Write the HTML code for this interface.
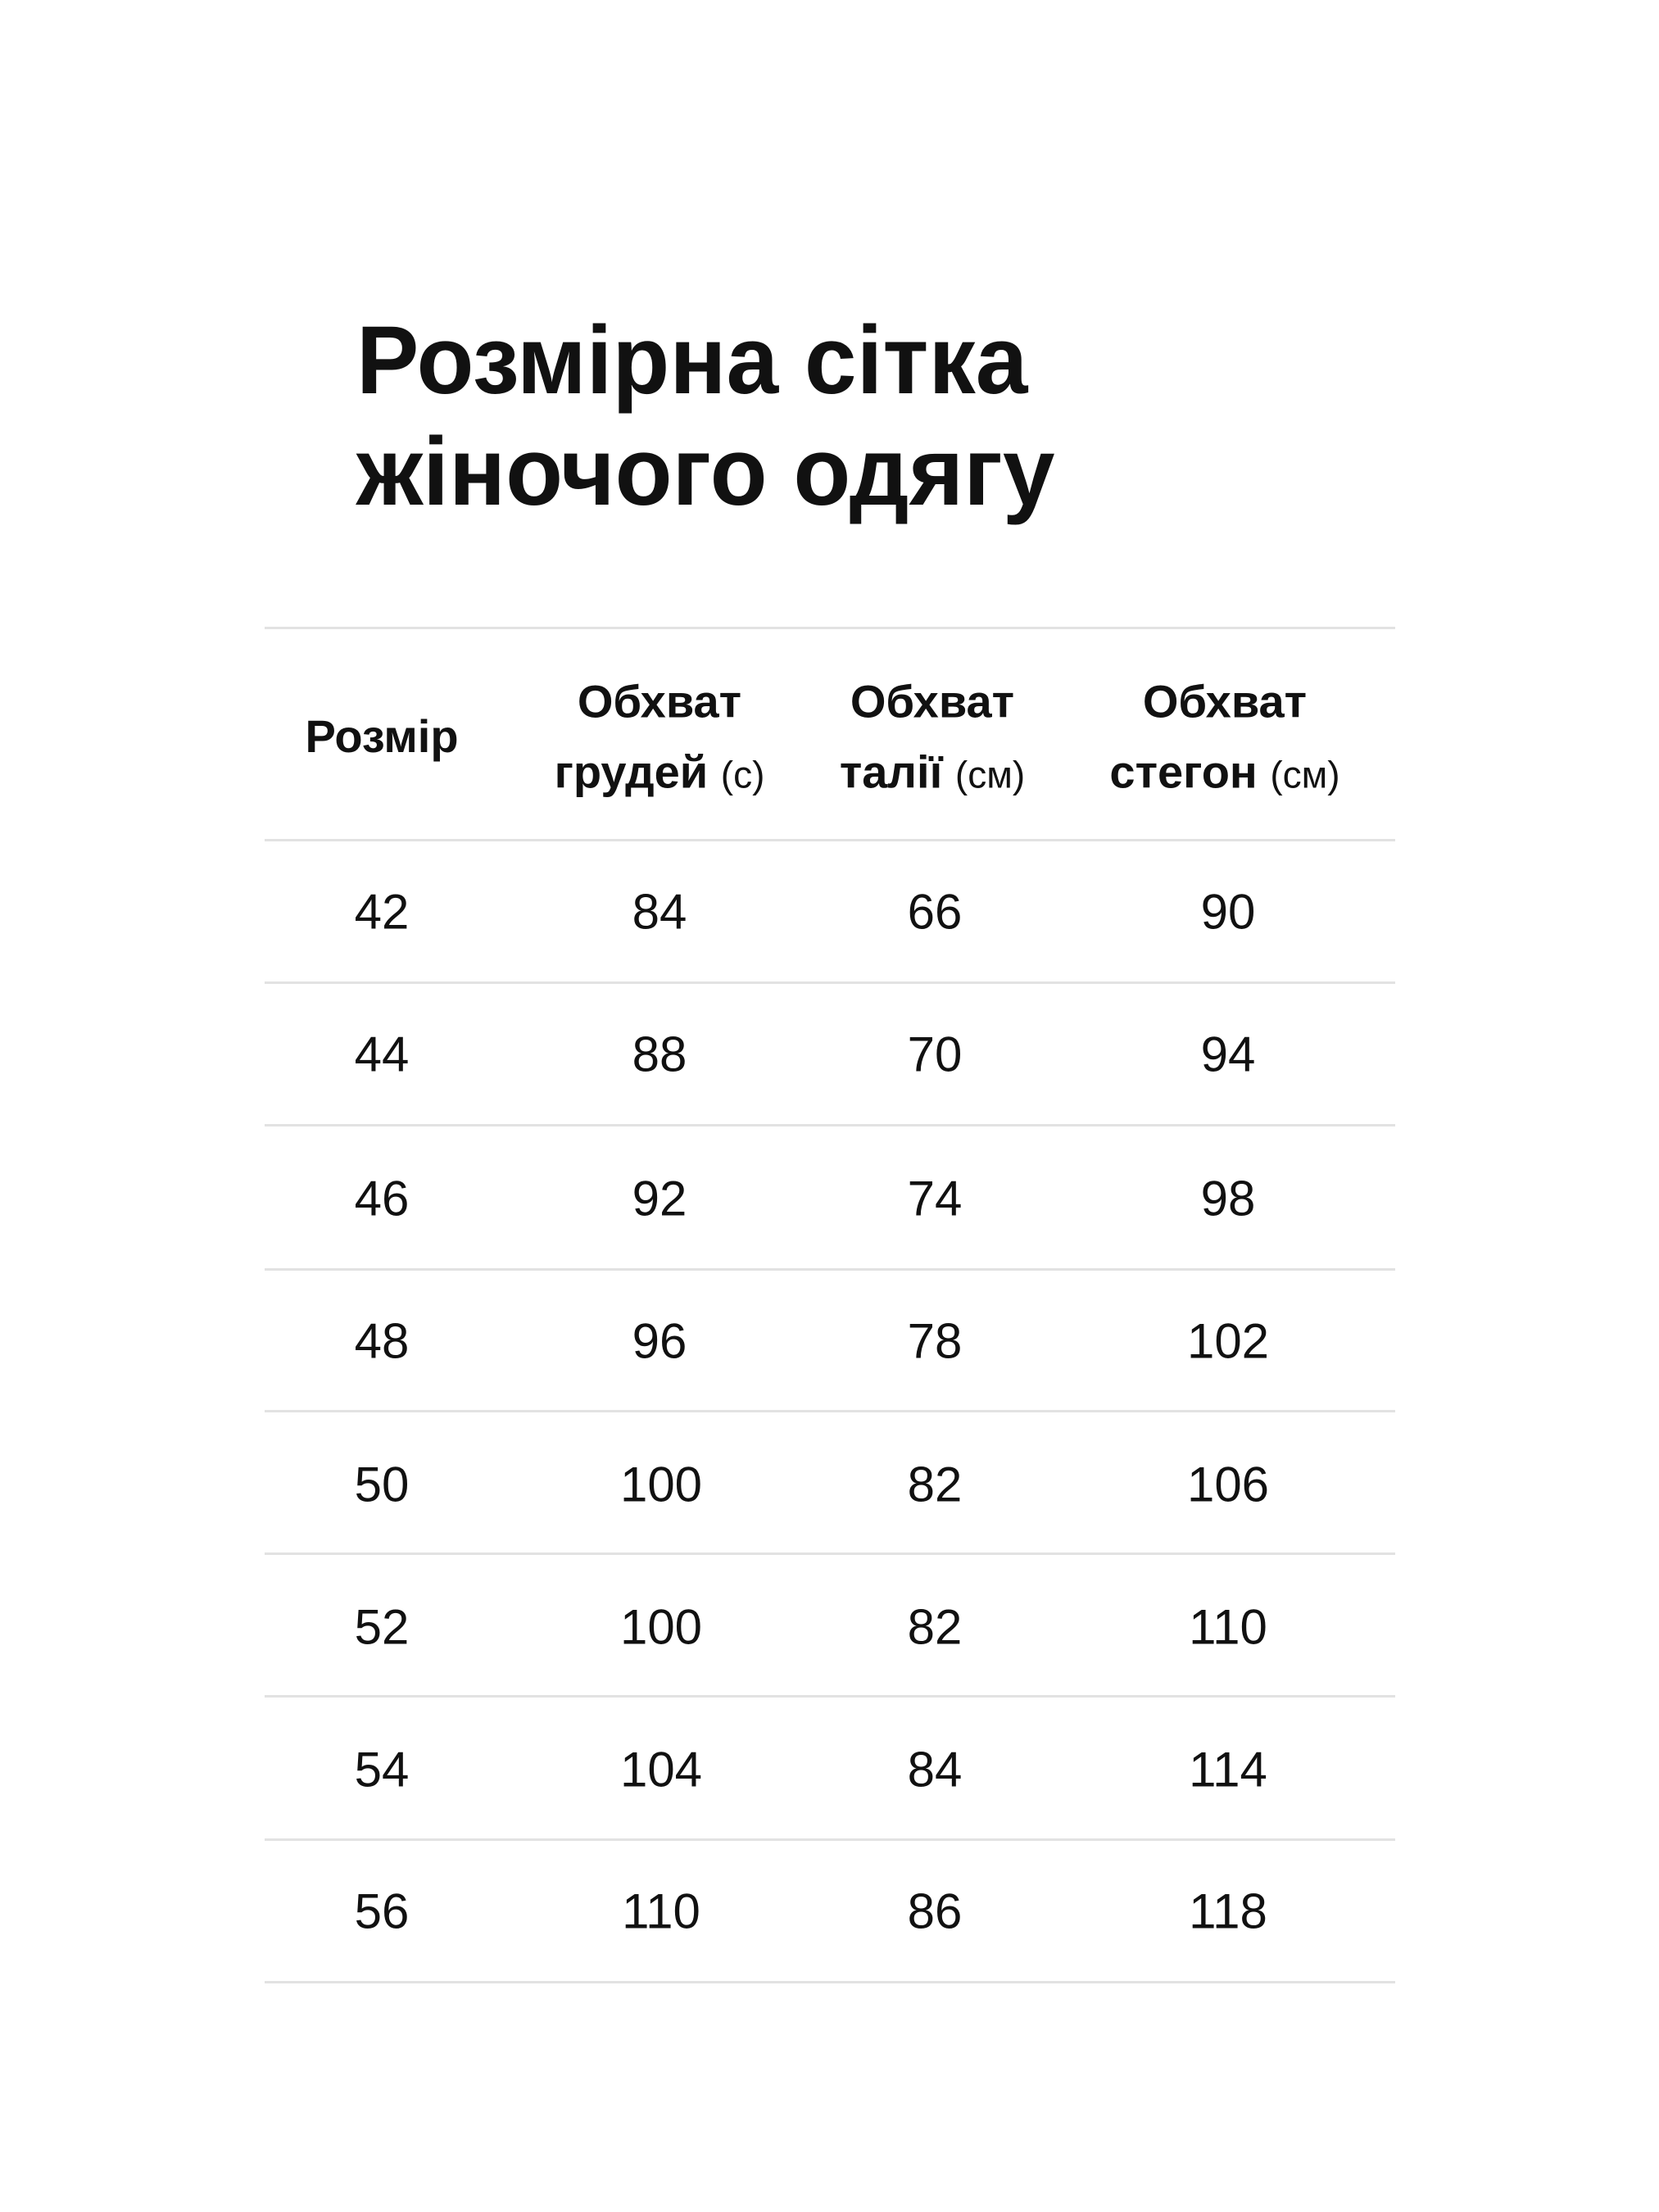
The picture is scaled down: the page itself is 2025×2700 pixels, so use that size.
<!DOCTYPE html>
<html><head><meta charset="utf-8"><style>
body{margin:0;width:2025px;height:2700px;background:#fff;position:relative;overflow:hidden;font-family:"Liberation Sans","DejaVu Sans",sans-serif;color:#111}
.t{position:absolute;left:435px;font-weight:bold;font-size:118px;line-height:1;white-space:nowrap;transform-origin:left top;transform:scaleX(0.97)}
.l{position:absolute;left:323px;width:1380px;height:3px;background:#e2e2e2}
.c{position:absolute;transform:translate(-50%,-50%);white-space:nowrap;text-align:center}
.h{font-weight:bold;font-size:56px;line-height:86px}
.h span{font-weight:normal;font-size:46px}
.d{font-size:60px}
</style></head><body>
<div class="t" style="top:381px">Розмірна сітка</div>
<div class="t" style="top:517px">жіночого одягу</div>
<div class="l" style="top:765px"></div>
<div class="l" style="top:1024px"></div>
<div class="l" style="top:1198px"></div>
<div class="l" style="top:1372px"></div>
<div class="l" style="top:1548px"></div>
<div class="l" style="top:1721px"></div>
<div class="l" style="top:1895px"></div>
<div class="l" style="top:2069px"></div>
<div class="l" style="top:2244px"></div>
<div class="l" style="top:2418px"></div>
<div class="c h" style="left:466px;top:899px">Розмір</div>
<div class="c h" style="left:805px;top:901px">Обхват<br>грудей <span>(с)</span></div>
<div class="c h" style="left:1138px;top:901px">Обхват<br>талії <span>(см)</span></div>
<div class="c h" style="left:1495px;top:901px">Обхват<br>стегон <span>(см)</span></div>
<div class="c d" style="left:466px;top:1113px">42</div><div class="c d" style="left:805px;top:1113px">84</div><div class="c d" style="left:1141px;top:1113px">66</div><div class="c d" style="left:1499px;top:1113px">90</div>
<div class="c d" style="left:466px;top:1287px">44</div><div class="c d" style="left:805px;top:1287px">88</div><div class="c d" style="left:1141px;top:1287px">70</div><div class="c d" style="left:1499px;top:1287px">94</div>
<div class="c d" style="left:466px;top:1463px">46</div><div class="c d" style="left:805px;top:1463px">92</div><div class="c d" style="left:1141px;top:1463px">74</div><div class="c d" style="left:1499px;top:1463px">98</div>
<div class="c d" style="left:466px;top:1637px">48</div><div class="c d" style="left:805px;top:1637px">96</div><div class="c d" style="left:1141px;top:1637px">78</div><div class="c d" style="left:1499px;top:1637px">102</div>
<div class="c d" style="left:466px;top:1812px">50</div><div class="c d" style="left:807px;top:1812px">100</div><div class="c d" style="left:1141px;top:1812px">82</div><div class="c d" style="left:1499px;top:1812px">106</div>
<div class="c d" style="left:466px;top:1986px">52</div><div class="c d" style="left:807px;top:1986px">100</div><div class="c d" style="left:1141px;top:1986px">82</div><div class="c d" style="left:1499px;top:1986px">110</div>
<div class="c d" style="left:466px;top:2160px">54</div><div class="c d" style="left:807px;top:2160px">104</div><div class="c d" style="left:1141px;top:2160px">84</div><div class="c d" style="left:1499px;top:2160px">114</div>
<div class="c d" style="left:466px;top:2333px">56</div><div class="c d" style="left:807px;top:2333px">110</div><div class="c d" style="left:1141px;top:2333px">86</div><div class="c d" style="left:1499px;top:2333px">118</div>
</body></html>
